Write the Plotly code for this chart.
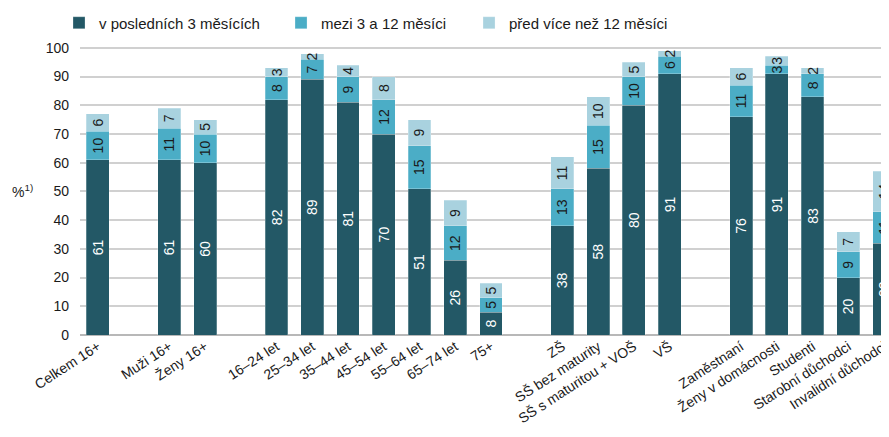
import plotly.graph_objects as go

categories = [
    "Celkem 16+",
    "Muži 16+", "Ženy 16+",
    "16–24 let", "25–34 let", "35–44 let", "45–54 let", "55–64 let", "65–74 let", "75+",
    "ZŠ", "SŠ bez maturity", "SŠ s maturitou + VOŠ", "VŠ",
    "Zaměstnaní", "Ženy v domácnosti", "Studenti", "Starobní důchodci", "Invalidní důchodci",
]
group_sizes = [1, 2, 7, 4, 5]

last_3_months = [61, 61, 60, 82, 89, 81, 70, 51, 26, 8, 38, 58, 80, 91, 76, 91, 83, 20, 32]
months_3_to_12 = [10, 11, 10, 8, 7, 9, 12, 15, 12, 5, 13, 15, 10, 6, 11, 3, 8, 9, 11]
over_12_months = [6, 7, 5, 3, 2, 4, 8, 9, 9, 5, 11, 10, 5, 2, 6, 3, 2, 7, 14]

series_names = ["v posledních 3 měsících", "mezi 3 a 12 měsíci", "před více než 12 měsíci"]
y_ticks = [0, 10, 20, 30, 40, 50, 60, 70, 80, 90, 100]

# positions: one empty slot between groups
x_pos = []
p = 0
for g in group_sizes:
    for _ in range(g):
        x_pos.append(p)
        p += 1
    p += 1

colors = ["#235866", "#4badc6", "#a9d2df"]
text_colors = ["#ffffff", "#1a1a1a", "#1a1a1a"]
legends = ["legend2", "legend3", "legend4"]
legend_x = [0.0579, 0.3099, 0.5233]

fig = go.Figure()
for name, vals, c, tc, lg in zip(series_names, [last_3_months, months_3_to_12, over_12_months],
                                 colors, text_colors, legends):
    fig.add_trace(go.Bar(
        x=x_pos, y=vals, name=name, legend=lg,
        marker=dict(color=c, line=dict(color="rgba(255,255,255,0.5)", width=0.5)),
        text=[str(v) for v in vals], textposition="inside", insidetextanchor="middle",
        textangle=-90, textfont=dict(color=tc, size=14, family="Liberation Sans, Arial"),
        hoverinfo="skip",
    ))

font = dict(family="Liberation Sans, Arial, sans-serif", size=14, color="#1a1a1a")
leg_font = dict(family="Liberation Sans, Arial, sans-serif", size=15, color="#1a1a1a")
leg_common = dict(orientation="h", xref="container", yref="container", yanchor="middle",
                  y=0.965, xanchor="left", font=leg_font, bgcolor="rgba(0,0,0,0)", itemwidth=30)

fig.update_layout(
    width=881, height=429,
    margin=dict(l=72, r=0, t=37, b=102, autoexpand=False),
    barmode="stack", bargap=0.36,
    plot_bgcolor="white", paper_bgcolor="white",
    font=font,
    uniformtext=dict(minsize=14, mode="show"),
    legend2=dict(x=legend_x[0], **leg_common),
    legend3=dict(x=legend_x[1], **leg_common),
    legend4=dict(x=legend_x[2], **leg_common),
    xaxis=dict(
        range=[-0.5, 22.14], tickvals=x_pos, ticktext=categories, tickangle=-33,
        showgrid=False, zeroline=False, showline=False, ticks="", tickfont=font,
        ticklabeloverflow="allow", automargin=False,
    ),
    yaxis=dict(
        range=[0, 101], tickvals=y_ticks, showgrid=True, gridcolor="#d0d0d0", gridwidth=1.5,
        zeroline=True, zerolinecolor="#b8b8b8", zerolinewidth=1.5, ticks="",
        ticklabelstandoff=10, tickfont=font, automargin=False,
    ),
    annotations=[dict(
        text="%<sup>1)</sup>", xref="paper", yref="y", x=-0.0705, y=50, xanchor="center",
        yanchor="middle", showarrow=False, font=font,
    )],
)

fig.write_html("out.html")
